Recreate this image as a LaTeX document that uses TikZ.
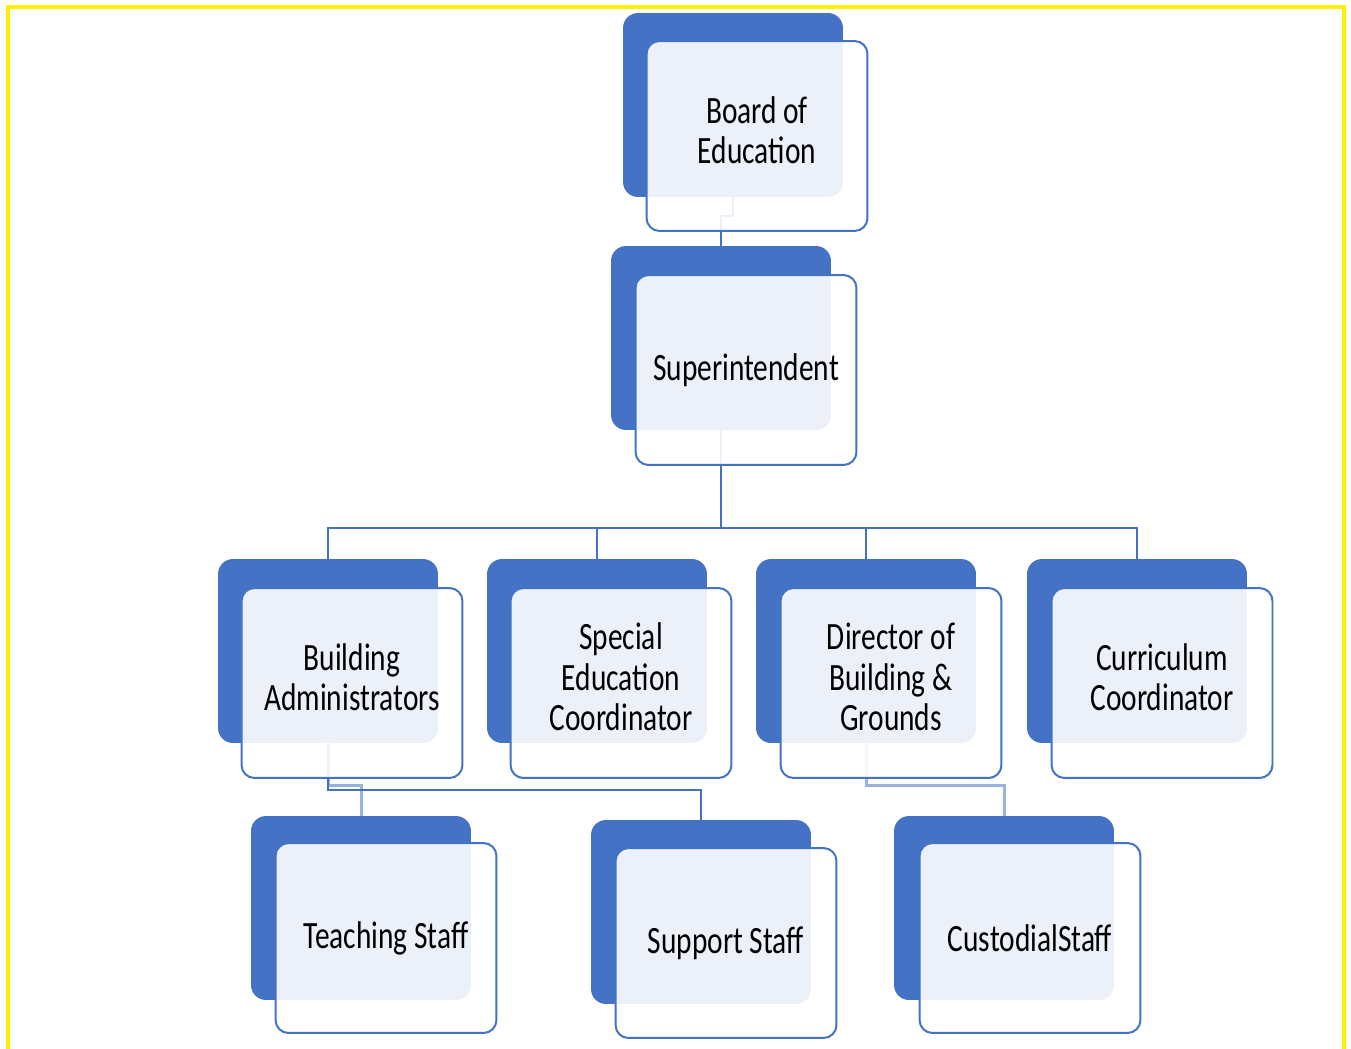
\documentclass[tikz,border=0pt]{standalone}
\usepackage{fontspec}
\setmainfont[FakeStretch=0.76]{Carlito}
\definecolor{orgblue}{HTML}{4472C4}
\newcommand{\lowpad}{\rule[-7pt]{0pt}{0pt}}

\begin{document}
\begin{tikzpicture}[x=0.02cm,y=-0.02cm,
	back/.style={shape=rectangle,rounded corners=0.3cm,fill=orgblue,inner sep=0pt,minimum width=4.4cm,minimum height=3.68cm},
	front/.style={shape=rectangle,rounded corners=0.26cm,draw=orgblue,line width=0.04cm,fill=white,fill opacity=0.9,text opacity=1,inner sep=0pt,minimum width=4.42cm,minimum height=3.8cm,align=center,font=\fontsize{22}{23}\selectfont},
	link/.style={draw=orgblue,line width=0.045cm},
	paler/.style={draw=orgblue,line width=0.06cm,draw opacity=0.55}]
	\useasboundingbox (0,0) rectangle (1351,1048);
	\clip (0,0) rectangle (1351,1048);
	\draw[yellow,line width=0.08cm] (8,7) rectangle (1344,1080);

	% back cards
	\node[back] (boardb) at (733, 105)    {};
	\node[back] (superb) at (721, 338)    {};
	\node[back] (bldb)   at (328, 651)    {};
	\node[back] (specb)  at (597, 651)    {};
	\node[back] (dirb)   at (866, 651)    {};
	\node[back] (currb)  at (1137, 651)   {};
	\node[back] (teachb) at (361, 908)    {};
	\node[back] (suppb)  at (701, 912)    {};
	\node[back] (custb)  at (1004, 908)   {};

	% connectors
	\coordinate (lvlA) at (0, 216);
	\coordinate (lvlB) at (0, 528);
	\coordinate (lvlC) at (0, 790);
	\coordinate (lvlD) at (0, 785);
	\draw[link] (boardb.south) -- (boardb.south |- lvlA) -| (superb.north);
	\draw[link] (superb.south) -- (superb.south |- lvlB) -| (bldb.north);
	\draw[link] (superb.south) -- (superb.south |- lvlB) -| (specb.north);
	\draw[link] (superb.south) -- (superb.south |- lvlB) -| (dirb.north);
	\draw[link] (superb.south) -- (superb.south |- lvlB) -| (currb.north);
	\draw[link] (bldb.south) -- (bldb.south |- lvlC) -| (suppb.north);
	\draw[paler] (bldb.south) -- (bldb.south |- lvlD) -| (teachb.north);
	\draw[paler] (dirb.south) -- (dirb.south |- lvlD) -| (custb.north);

	% front cards
	\node[front] (board) at (757, 136)    {Board of\\Education\lowpad};
	\node[front] (super) at (746, 370)    {Superintendent};
	\node[front] (bld)   at (352, 683)    {Building\\Administrators\lowpad};
	\node[front] (spec)  at (621, 683)    {Special\\Education\\Coordinator\lowpad};
	\node[front] (dir)   at (891, 683)    {Director of\\Building \&\\Grounds\lowpad};
	\node[front] (curr)  at (1162, 683)   {Curriculum\\Coordinator\lowpad};
	\node[front] (teach) at (386, 938)    {Teaching Staff};
	\node[front] (supp)  at (726, 943)    {Support Staff};
	\node[front] (cust)  at (1030, 938)   {CustodialStaff};
\end{tikzpicture}
\end{document}
